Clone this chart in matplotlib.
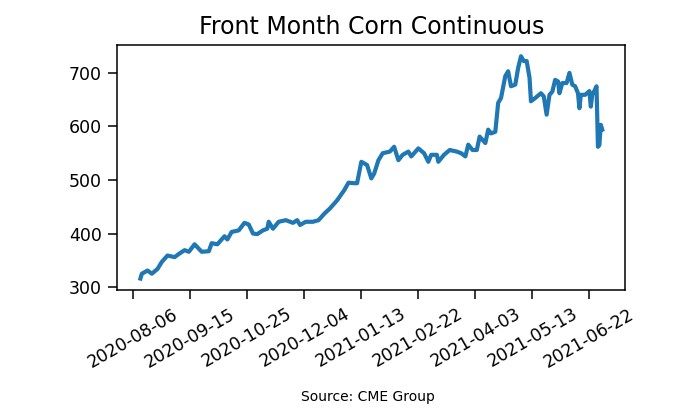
import matplotlib
matplotlib.use("Agg")
import matplotlib.pyplot as plt
import matplotlib.dates as mdates
import numpy as np

# Front month corn settle prices (cents/bu)
dates = [
    "2020-08-11", "2020-08-12", "2020-08-16", "2020-08-19", "2020-08-23", "2020-08-26",
    "2020-08-30", "2020-09-04", "2020-09-07", "2020-09-11", "2020-09-14", "2020-09-18",
    "2020-09-23", "2020-09-28", "2020-09-30", "2020-10-04", "2020-10-09", "2020-10-11",
    "2020-10-14", "2020-10-19", "2020-10-23", "2020-10-26", "2020-10-29", "2020-11-01",
    "2020-11-05", "2020-11-08", "2020-11-09", "2020-11-12", "2020-11-16", "2020-11-21",
    "2020-11-26", "2020-11-29", "2020-12-01", "2020-12-05", "2020-12-10", "2020-12-14",
    "2020-12-18", "2020-12-22", "2020-12-27", "2021-01-01", "2021-01-04", "2021-01-08",
    "2021-01-10", "2021-01-13", "2021-01-17", "2021-01-20", "2021-01-22", "2021-01-25",
    "2021-01-28", "2021-02-02", "2021-02-05", "2021-02-08", "2021-02-11", "2021-02-15",
    "2021-02-17", "2021-02-22", "2021-02-26", "2021-03-01", "2021-03-03", "2021-03-07",
    "2021-03-08", "2021-03-12", "2021-03-16", "2021-03-21", "2021-03-24", "2021-03-27",
    "2021-03-29", "2021-04-01", "2021-04-04", "2021-04-06", "2021-04-10", "2021-04-12",
    "2021-04-14", "2021-04-17", "2021-04-19", "2021-04-21", "2021-04-24", "2021-04-26",
    "2021-04-28", "2021-05-01", "2021-05-03", "2021-05-05", "2021-05-07", "2021-05-09",
    "2021-05-11", "2021-05-12", "2021-05-15", "2021-05-19", "2021-05-21", "2021-05-23",
    "2021-05-25", "2021-05-27", "2021-05-29", "2021-05-31", "2021-06-01", "2021-06-03",
    "2021-06-06", "2021-06-08", "2021-06-10", "2021-06-12", "2021-06-14", "2021-06-15",
    "2021-06-16", "2021-06-19", "2021-06-22", "2021-06-23", "2021-06-24", "2021-06-26",
    "2021-06-27", "2021-06-28", "2021-06-29", "2021-06-30", "2021-07-01",
]
prices = [
    316, 325, 331, 325, 334, 347,
    359, 356, 362, 369, 366, 380,
    366, 367, 382, 380, 395, 389,
    403, 406, 420, 417, 400, 399,
    406, 409, 422, 409, 422, 425,
    420, 425, 416, 422, 422, 425,
    437, 447, 462, 481, 495, 494,
    494, 534, 528, 503, 512, 537,
    550, 553, 562, 537, 547, 553,
    544, 559, 550, 534, 547, 547,
    534, 547, 556, 553, 550, 544,
    566, 556, 556, 581, 569, 594,
    587, 590, 644, 653, 694, 703,
    675, 678, 709, 731, 722, 722,
    691, 647, 653, 662, 656, 622,
    659, 665, 687, 684, 662, 681,
    681, 700, 678, 675, 662, 634,
    659, 659, 666, 637, 659, 669,
    675, 562, 565, 603, 594,
]
tick_dates = ["2020-08-06", "2020-09-15", "2020-10-25", "2020-12-04", "2021-01-13",
              "2021-02-22", "2021-04-03", "2021-05-13", "2021-06-22"]

x = np.array(dates, dtype="datetime64[D]")
y = np.array(prices)

fig = plt.figure(figsize=(7, 4.18), dpi=100)
ax = fig.add_axes([0.1676, 0.307, 0.7257, 0.585])
ax.plot(x, y, color="#1f77b4", linewidth=3)

ax.set_title("Front Month Corn Continuous", fontsize=17, pad=8)
ax.set_xticks(np.array(tick_dates, dtype="datetime64[D]"))
ax.xaxis.set_major_formatter(mdates.DateFormatter("%Y-%m-%d"))
ax.set_yticks([300, 400, 500, 600, 700])
ax.tick_params(labelsize=12.5, length=6.5, width=1.1, pad=4.5)
plt.setp(ax.get_xticklabels(), rotation=30, ha="center")
for s in ax.spines.values():
    s.set_linewidth(1.1)

fig.text(0.526, 1 - 397 / 418, "Source: CME Group", ha="center", va="center", fontsize=10)

fig.savefig("out.png", dpi=100)
